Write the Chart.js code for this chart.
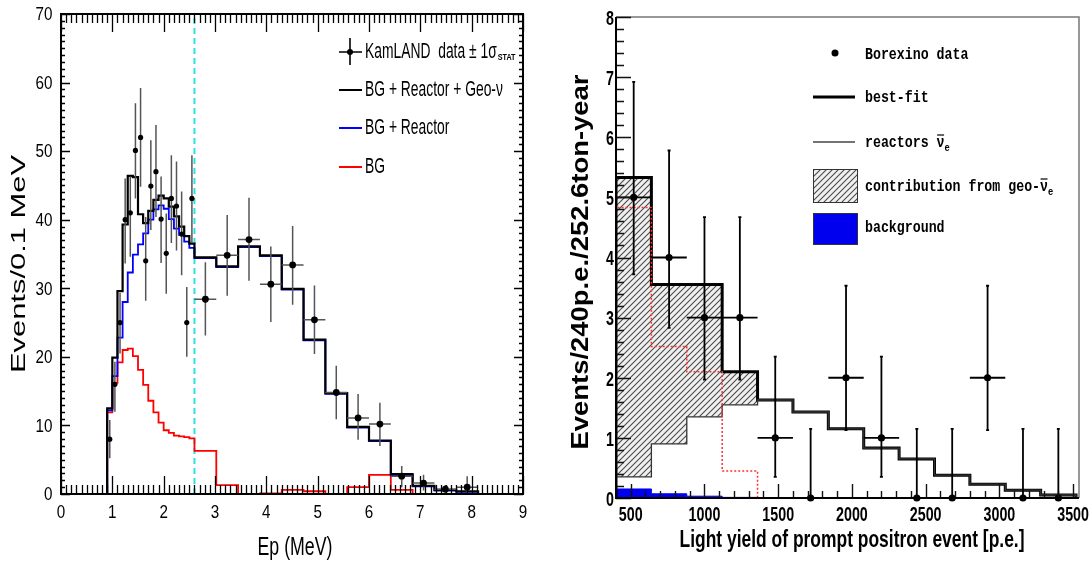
<!DOCTYPE html>
<html>
<head>
<meta charset="utf-8">
<script src="https://cdn.jsdelivr.net/npm/chart.js@4.4.0/dist/chart.umd.min.js"></script>
<style>
  html, body { margin: 0; padding: 0; background: #fff; }
  #wrap { position: relative; width: 1092px; height: 562px; overflow: hidden; background: #fff; }
  canvas { position: absolute; left: 0; top: 0; }
</style>
</head>
<body>
<div id="wrap">
  <canvas id="kamland" width="1092" height="562"></canvas>
  <canvas id="borexino" width="1092" height="562"></canvas>
</div>
<script>
// ---- KamLAND: prompt energy spectrum (MeV), 0.1 MeV bins below the cut, 0.425 MeV above ----
const kamEdges = [0.9, 1.0, 1.1, 1.2, 1.3, 1.4, 1.5, 1.6, 1.7, 1.8, 1.9, 2.0, 2.1, 2.2, 2.3, 2.4, 2.5,
  2.6, 3.025, 3.45, 3.875, 4.3, 4.725, 5.15, 5.575, 6.0, 6.425, 6.85, 7.275, 7.7, 8.125];
const kamTotal = [12.5, 19.9, 29.6, 39.3, 46.4, 46.2, 40.8, 39.5, 41.3, 42.9, 43.5, 43.1, 41.9, 40.5, 39.0, 37.6, 36.5,
  34.5, 33.2, 36.1, 34.8, 29.9, 22.5, 14.7, 9.8, 7.8, 2.9, 1.2, 0.6, 0.4];
const kamReactor = [12.2, 17.2, 22.8, 28.0, 32.3, 34.9, 36.4, 38.0, 40.0, 41.5, 42.1, 41.6, 40.1, 38.7, 37.8, 36.8, 35.9,
  34.4, 33.1, 36.0, 34.7, 29.8, 22.4, 14.6, 9.7, 7.7, 2.7, 1.1, 0.5, 0.3];
const kamBG = [11.9, 16.2, 19.2, 21.0, 21.2, 20.1, 18.1, 15.9, 13.6, 11.9, 10.4, 9.3, 8.9, 8.5, 8.4, 8.3, 8.1,
  6.3, 1.3, 0, 0.1, 0.6, 0.4, 0, 1.0, 2.8, 0.6, 0, 0, 0];
const kamCut = 2.6;

const kamX = [0.95, 1.05, 1.15, 1.25, 1.35, 1.45, 1.55, 1.65, 1.75, 1.85, 1.95, 2.05, 2.15, 2.25, 2.35, 2.45, 2.55,
  2.8125, 3.2375, 3.6625, 4.0875, 4.5125, 4.9375, 5.3625, 5.7875, 6.2125, 6.6375, 7.0625, 7.4875, 7.9125];
const kamY = [8.0, 16.0, 25.0, 40.0, 41.0, 50.1, 52.0, 34.0, 44.9, 47.0, 40.1, 35.1, 43.1, 42.0, 37.9, 25.0, 43.1,
  28.4, 34.8, 37.1, 30.6, 33.4, 25.4, 14.8, 11.1, 10.2, 2.6, 1.6, 0.7, 1.0];
const kamHi = [10.8, 19.3, 29.3, 46.0, 46.3, 57.0, 59.2, 40.4, 51.6, 53.8, 46.3, 40.9, 49.4, 48.5, 44.1, 30.2, 49.4,
  33.8, 40.7, 43.2, 36.1, 39.1, 30.4, 18.7, 14.6, 13.3, 4.1, 2.8, 1.3, 2.6];
const kamLo = [5.2, 12.0, 20.5, 33.6, 34.6, 43.1, 44.8, 28.2, 38.5, 40.4, 33.7, 29.2, 36.6, 35.5, 31.9, 20.0, 36.6,
  23.1, 28.9, 31.1, 25.1, 27.6, 20.4, 10.9, 7.9, 7.0, 1.0, 0.5, 0.1, 0.2];
const kamXErr = [0, 0, 0, 0, 0, 0, 0, 0, 0, 0, 0, 0, 0, 0, 0, 0, 0,
  0.2125, 0.2125, 0.2125, 0.2125, 0.2125, 0.2125, 0.2125, 0.2125, 0.2125, 0.2125, 0.2125, 0.2125, 0.2125];
const kamXTicks = [0, 1, 2, 3, 4, 5, 6, 7, 8, 9];
const kamYTicks = [0, 10, 20, 30, 40, 50, 60, 70];

// ---- Borexino: light yield of prompt event (p.e.), 240 p.e. bins ----
const bxEdges = [400, 640, 880, 1120, 1360, 1600, 1840, 2080, 2320, 2560, 2800, 3040, 3280, 3520];
const bxBestFit = [5.33, 3.55, 3.55, 2.10, 1.63, 1.43, 1.15, 0.83, 0.65, 0.38, 0.23, 0.13, 0.05];
const bxReactor = [0.35, 0.90, 1.35, 1.55, 1.63, 1.43, 1.15, 0.83, 0.65, 0.38, 0.23, 0.13, 0.05];
const bxGeo = [4.83, 2.52, 2.10, 0.45, 0, 0, 0, 0, 0, 0, 0, 0, 0];
const bxBackground = [0.15, 0.07, 0.03, 0.01, 0, 0, 0, 0, 0, 0, 0, 0, 0];

const bxX = [520, 760, 1000, 1240, 1480, 1720, 1960, 2200, 2440, 2680, 2920, 3160, 3400];
const bxY = [5, 4, 3, 3, 1, 0, 2, 1, 0, 0, 2, 0, 0];
const bxHi = [6.92, 5.78, 4.67, 4.67, 2.35, 1.15, 3.53, 2.35, 1.15, 1.15, 3.53, 1.15, 1.15];
const bxLo = [3.72, 2.83, 1.97, 1.97, 0.35, 0, 1.13, 0.35, 0, 0, 1.13, 0, 0];
const bxXErr = [120, 120, 120, 120, 120, 120, 120, 120, 120, 120, 120, 120, 120];
const bxXTicks = [500, 1000, 1500, 2000, 2500, 3000, 3500];
const bxYTicks = [0, 1, 2, 3, 4, 5, 6, 7, 8];

const SANS = "'Liberation Sans', Arial, sans-serif";
const MONO = "'Liberation Mono', 'DejaVu Sans Mono', monospace";

// histogram outline: rise from 0 at the first edge, drop back to 0 at the last
function histPoints(edges, values) {
  const pts = [{ x: edges[0], y: 0 }];
  values.forEach((v, i) => pts.push({ x: edges[i], y: v }));
  pts.push({ x: edges[edges.length - 1], y: 0 });
  return pts;
}

function pointsOf(xs, ys) {
  return xs.map((x, i) => ({ x, y: ys[i] }));
}

// text with independent scaling along / across the baseline; returns drawn width
function label(ctx, s, x, y, o = {}) {
  ctx.save();
  ctx.font = o.font || `19px ${SANS}`;
  ctx.fillStyle = o.color || "#000";
  ctx.textAlign = o.align || "left";
  ctx.textBaseline = o.base || "middle";
  const w = ctx.measureText(s).width;
  const sx = o.len ? o.len / w : (o.sx || 1);
  ctx.translate(x, y);
  if (o.rot) ctx.rotate(o.rot);
  ctx.scale(sx, o.sy || 1);
  ctx.fillText(s, 0, 0);
  ctx.restore();
  return w * sx;
}

function errorBars(chart, xs, ys, lo, hi, xe, color, width, cap) {
  const { ctx, scales: { x, y } } = chart;
  ctx.save();
  ctx.strokeStyle = color;
  ctx.lineWidth = width;
  ctx.beginPath();
  xs.forEach((v, i) => {
    const px = x.getPixelForValue(v);
    const yt = y.getPixelForValue(hi[i]);
    const yb = y.getPixelForValue(lo[i]);
    ctx.moveTo(px, yb);
    ctx.lineTo(px, yt);
    if (cap) {
      ctx.moveTo(px - cap, yt); ctx.lineTo(px + cap, yt);
      if (lo[i] > 0) { ctx.moveTo(px - cap, yb); ctx.lineTo(px + cap, yb); }
    }
    if (xe[i] > 0) {
      const py = y.getPixelForValue(ys[i]);
      ctx.moveTo(x.getPixelForValue(v - xe[i]), py);
      ctx.lineTo(x.getPixelForValue(v + xe[i]), py);
    }
  });
  ctx.stroke();
  ctx.restore();
}

function hatchPattern() {
  const c = document.createElement("canvas");
  c.width = 6; c.height = 6;
  const g = c.getContext("2d");
  g.fillStyle = "#f0f0f0";
  g.fillRect(0, 0, 6, 6);
  g.strokeStyle = "#4a4a4a";
  g.lineWidth = 1.1;
  g.beginPath();
  g.moveTo(0, 6); g.lineTo(6, 0);
  g.moveTo(-1, 1); g.lineTo(1, -1);
  g.moveTo(5, 7); g.lineTo(7, 5);
  g.stroke();
  return g.createPattern(c, "repeat");
}
const HATCH = hatchPattern();

// ---------------- left panel decorations ----------------
const kamDecor = {
  id: "kamDecor",
  beforeDatasetDraw(chart, args) {
    if (args.index === 0) errorBars(chart, kamX, kamY, kamLo, kamHi, kamXErr, "#555", 1.5, 0);
  },
  afterDraw(chart) {
    const { ctx, chartArea: a, scales: { x, y } } = chart;
    ctx.save();
    ctx.strokeStyle = "#000";
    ctx.lineWidth = 1.3;
    ctx.beginPath();
    for (let i = 0; i <= 90; i++) {
      const px = Math.round(x.getPixelForValue(i / 10)) + 0.5;
      const len = i % 10 === 0 ? 18 : 9;
      ctx.moveTo(px, a.bottom); ctx.lineTo(px, a.bottom - len);
      ctx.moveTo(px, a.top); ctx.lineTo(px, a.top + len);
    }
    for (let v = 0; v <= 70; v++) {
      const py = Math.round(y.getPixelForValue(v)) + 0.5;
      const len = v % 10 === 0 ? 9 : 4;
      ctx.moveTo(a.left, py); ctx.lineTo(a.left + len, py);
      ctx.moveTo(a.right, py); ctx.lineTo(a.right - len, py);
    }
    ctx.stroke();
    ctx.lineWidth = 2;
    ctx.strokeRect(a.left, a.top, a.right - a.left, a.bottom - a.top);

    kamXTicks.forEach((t) => label(ctx, String(t), x.getPixelForValue(t), 513,
      { align: "center", font: `19px ${SANS}`, sx: 0.8 }));
    kamYTicks.forEach((t) => label(ctx, String(t), 52.5, y.getPixelForValue(t) + 1,
      { align: "right", font: `19px ${SANS}`, sx: 0.8 }));

    label(ctx, "Ep (MeV)", 295, 548, { align: "center", font: `26px ${SANS}`, len: 75 });
    label(ctx, "Events/0.1 MeV", 19, 264,
      { align: "center", font: `26px ${SANS}`, len: 218, sy: 0.8, rot: -Math.PI / 2 });

    // legend
    ctx.strokeStyle = "#000";
    ctx.lineWidth = 1.6;
    ctx.beginPath();
    ctx.moveTo(339, 52); ctx.lineTo(362, 52);
    ctx.moveTo(350, 38); ctx.lineTo(350, 65);
    ctx.stroke();
    ctx.fillStyle = "#000";
    ctx.beginPath(); ctx.arc(350, 52, 3, 0, Math.PI * 2); ctx.fill();
    [["#000", 90], ["#0000ff", 128], ["#ff0000", 167]].forEach(([c, py]) => {
      ctx.strokeStyle = c;
      ctx.lineWidth = 2;
      ctx.beginPath(); ctx.moveTo(339, py); ctx.lineTo(362, py); ctx.stroke();
    });
    const f = `22px ${SANS}`;
    const w = label(ctx, "KamLAND  data \u00b1 1\u03c3", 365, 52, { font: f, sx: 0.63 });
    label(ctx, "STAT", 366 + w, 58, { font: `bold 9px ${SANS}`, sx: 0.8 });
    label(ctx, "BG + Reactor + Geo-\u03bd", 365, 90, { font: f, sx: 0.63 });
    label(ctx, "BG + Reactor", 365, 128, { font: f, sx: 0.63 });
    label(ctx, "BG", 365, 167, { font: f, sx: 0.63 });
    ctx.restore();
  }
};

// ---------------- right panel decorations ----------------
const LEG_FONT = `bold 17px ${MONO}`;
const LEG_SX = 0.78;

function barNu(ctx, prefix, x0, py) {
  // prefix text, then nu with an overbar and a subscript e
  const w = label(ctx, prefix, x0, py, { font: LEG_FONT, sx: LEG_SX });
  const wn = label(ctx, "\u03bd", x0 + w, py, { font: LEG_FONT, sx: LEG_SX });
  ctx.save();
  ctx.strokeStyle = "#000";
  ctx.lineWidth = 1.2;
  ctx.beginPath();
  ctx.moveTo(x0 + w + 0.5, py - 8); ctx.lineTo(x0 + w + wn - 0.5, py - 8);
  ctx.stroke();
  ctx.restore();
  label(ctx, "e", x0 + w + wn, py + 5, { font: `bold 11px ${MONO}`, sx: 0.8 });
}

const bxDecor = {
  id: "bxDecor",
  beforeDatasetDraw(chart, args) {
    if (args.index === 0) errorBars(chart, bxX, bxY, bxLo, bxHi, bxXErr, "#000", 1.8, 1.5);
  },
  afterDraw(chart) {
    const { ctx, chartArea: a, scales: { x, y } } = chart;
    ctx.save();
    ctx.strokeStyle = "#777";
    ctx.lineWidth = 1.5;
    ctx.beginPath();
    ctx.moveTo(a.left, a.top); ctx.lineTo(a.right, a.top); ctx.lineTo(a.right, a.bottom);
    ctx.stroke();
    ctx.strokeStyle = "#111";
    ctx.lineWidth = 1.4;
    ctx.beginPath();
    for (let i = 0; i <= 40; i++) {
      const py = Math.round(y.getPixelForValue(i / 5)) + 0.5;
      const len = i % 5 === 0 ? 15 : 8;
      ctx.moveTo(a.left, py); ctx.lineTo(a.left + len, py);
    }
    for (let p = 500; p <= 3500; p += 100) {
      const px = Math.round(x.getPixelForValue(p)) + 0.5;
      const len = p % 500 === 0 ? 14 : 7;
      ctx.moveTo(px, a.bottom); ctx.lineTo(px, a.bottom - len);
    }
    ctx.stroke();
    ctx.strokeStyle = "#000";
    ctx.lineWidth = 2;
    ctx.beginPath();
    ctx.moveTo(a.left, a.top); ctx.lineTo(a.left, a.bottom); ctx.lineTo(a.right, a.bottom);
    ctx.stroke();

    const tf = `bold 21px ${SANS}`;
    bxXTicks.forEach((t) => label(ctx, String(t), x.getPixelForValue(t), 515,
      { align: "center", font: tf, sx: 0.68 }));
    bxYTicks.forEach((t) => label(ctx, String(t), 614, y.getPixelForValue(t) + 2,
      { align: "right", font: tf, sx: 0.68 }));

    label(ctx, "Light yield of prompt positron event [p.e.]", 852, 540,
      { align: "center", font: `bold 24px ${SANS}`, len: 345 });
    label(ctx, "Events/240p.e./252.6ton-year", 581, 262,
      { align: "center", font: `bold 27px ${SANS}`, len: 375, sy: 0.88, rot: -Math.PI / 2 });

    // legend
    ctx.fillStyle = "#000";
    ctx.beginPath(); ctx.arc(835, 53, 3.5, 0, Math.PI * 2); ctx.fill();
    ctx.strokeStyle = "#000";
    ctx.lineWidth = 3;
    ctx.beginPath(); ctx.moveTo(813, 97); ctx.lineTo(855, 97); ctx.stroke();
    ctx.strokeStyle = "#444";
    ctx.lineWidth = 1.3;
    ctx.beginPath(); ctx.moveTo(813, 142); ctx.lineTo(855, 142); ctx.stroke();
    ctx.fillStyle = HATCH;
    ctx.fillRect(813, 169, 44, 33);
    ctx.lineWidth = 1;
    ctx.strokeStyle = "#333";
    ctx.strokeRect(813.5, 169.5, 44, 33);
    ctx.fillStyle = "#0000ee";
    ctx.fillRect(813, 213, 44, 31);
    ctx.strokeRect(813.5, 213.5, 44, 31);

    label(ctx, "Borexino data", 865, 55, { font: LEG_FONT, sx: LEG_SX });
    label(ctx, "best-fit", 865, 98, { font: LEG_FONT, sx: LEG_SX });
    barNu(ctx, "reactors ", 865, 143);
    barNu(ctx, "contribution from geo-", 865, 187);
    label(ctx, "background", 865, 228, { font: LEG_FONT, sx: LEG_SX });
    ctx.restore();
  }
};

const baseOptions = (pad, xr, yr) => ({
  responsive: false,
  animation: false,
  devicePixelRatio: 1,
  events: [],
  layout: { padding: pad },
  plugins: { legend: { display: false }, tooltip: { enabled: false } },
  scales: {
    x: { type: "linear", min: xr[0], max: xr[1], display: false },
    y: { type: "linear", min: yr[0], max: yr[1], display: false }
  }
});

new Chart(document.getElementById("kamland"), {
  type: "line",
  data: {
    datasets: [
      {
        label: "KamLAND data",
        data: pointsOf(kamX, kamY),
        showLine: false,
        pointRadius: kamXErr.map((e) => (e > 0 ? 3.4 : 2.6)),
        pointBackgroundColor: "#000",
        pointBorderWidth: 0,
        clip: false,
        order: 0
      },
      {
        label: "BG + Reactor + Geo-\u03bd",
        data: histPoints(kamEdges, kamTotal),
        borderColor: "#000",
        borderWidth: 2.2,
        stepped: true,
        pointRadius: 0,
        order: 1
      },
      {
        label: "BG + Reactor",
        data: histPoints(kamEdges, kamReactor),
        borderColor: "#0000ff",
        borderWidth: 1.8,
        stepped: true,
        pointRadius: 0,
        order: 2
      },
      {
        label: "BG",
        data: histPoints(kamEdges, kamBG),
        borderColor: "#ff0000",
        borderWidth: 1.8,
        stepped: true,
        pointRadius: 0,
        order: 3
      },
      {
        label: "cut",
        data: [{ x: kamCut, y: 0 }, { x: kamCut, y: 70 }],
        borderColor: "#30e0e0",
        borderWidth: 2,
        borderDash: [6, 4],
        pointRadius: 0,
        order: 4
      }
    ]
  },
  options: baseOptions({ left: 61, right: 569, top: 14, bottom: 68 }, [0, 9], [0, 70]),
  plugins: [kamDecor]
});

new Chart(document.getElementById("borexino"), {
  type: "line",
  data: {
    datasets: [
      {
        label: "Borexino data",
        data: pointsOf(bxX, bxY),
        showLine: false,
        pointRadius: 3.6,
        pointBackgroundColor: "#000",
        pointBorderWidth: 0,
        clip: false,
        order: 0
      },
      {
        label: "best-fit",
        data: histPoints(bxEdges, bxBestFit),
        borderColor: "#000",
        borderWidth: 3,
        stepped: true,
        pointRadius: 0,
        fill: 2,
        backgroundColor: HATCH,
        order: 3
      },
      {
        label: "reactors",
        data: histPoints(bxEdges, bxReactor),
        borderColor: "#333",
        borderWidth: 1.3,
        stepped: true,
        pointRadius: 0,
        order: 2
      },
      {
        label: "background",
        data: histPoints(bxEdges, bxBackground),
        borderColor: "#0000ee",
        borderWidth: 1,
        stepped: true,
        pointRadius: 0,
        fill: "origin",
        backgroundColor: "#0000ee",
        order: 4
      },
      {
        label: "geo",
        data: histPoints(bxEdges, bxGeo),
        borderColor: "#ff3030",
        borderWidth: 1.5,
        borderDash: [2, 2],
        stepped: true,
        pointRadius: 0,
        order: 1
      }
    ]
  },
  options: baseOptions({ left: 616, right: 13, top: 17, bottom: 64 }, [400, 3540], [0, 8]),
  plugins: [bxDecor]
});
</script>
</body>
</html>
